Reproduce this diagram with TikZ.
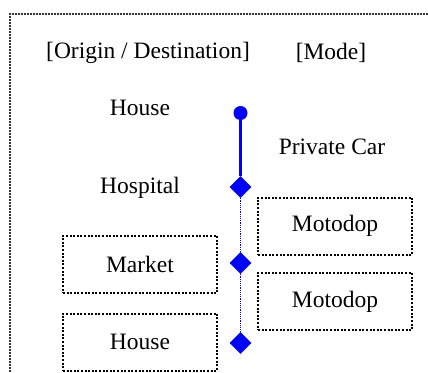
\documentclass[tikz,border=0pt]{standalone}
\usepackage{fontspec}
\setmainfont{Liberation Serif}
\usetikzlibrary{shapes.geometric}
\definecolor{stopblue}{RGB}{0,0,255}
\begin{document}
\begin{tikzpicture}[x=1pt,y=-1pt,
  every node/.style={font=\fontsize{23.5}{28}\selectfont, inner sep=0pt},
  label/.style={anchor=center},
  placebox/.style={draw=black, line width=2pt, dash pattern=on 2pt off 1.6pt,
    minimum width=154pt, minimum height=57pt},
  modebox/.style={draw=black, line width=2pt, dash pattern=on 2pt off 1.6pt,
    minimum width=154pt, minimum height=57pt},
  startdot/.style={circle, fill=stopblue, minimum size=14pt},
  stopmark/.style={diamond, fill=stopblue, minimum width=22pt, minimum height=22pt, aspect=1},
  solidleg/.style={draw=stopblue, line width=2.2pt},
  dotleg/.style={draw=stopblue, line width=1.2pt, dash pattern=on 1.2pt off 1pt},
  frameline/.style={draw=black!80, line width=2pt, dash pattern=on 2pt off 1pt}]
\useasboundingbox (0,0) rectangle (428,372);
% outer frame (open on the right and bottom)
\coordinate (ftr) at (428,14);
\coordinate (ftl) at (10,14);
\coordinate (fbl) at (10,372);
\draw[frameline] (ftr) -- (ftl) -- (fbl);
% column headings
\node[label] (hOD) at (148,53) {[Origin / Destination]};
\node[label] (hMode) at (331,53) {[Mode]};
% places
\node[label] (house1) at (140,108) {House};
\node[label] (hospital) at (140,188) {Hospital};
\node[placebox] (market) at (140,264.5) {Market};
\node[placebox] (house2) at (140,342) {House};
% modes
\node[label] (car) at (332,147) {Private Car};
\node[modebox] (moto1) at (335,226) {Motodop};
\node[modebox] (moto2) at (335,301.5) {Motodop};
% trip markers
\node[startdot] (s0) at (240.5,113) {};
\node[stopmark] (s1) at (240.5,187) {};
\node[stopmark] (s2) at (240.5,263) {};
\node[stopmark] (s3) at (240.5,343) {};
% legs
\draw[solidleg] (s0) -- (s1);
\draw[dotleg] (s1) -- (s2);
\draw[dotleg] (s2) -- (s3);
\end{tikzpicture}
\end{document}
